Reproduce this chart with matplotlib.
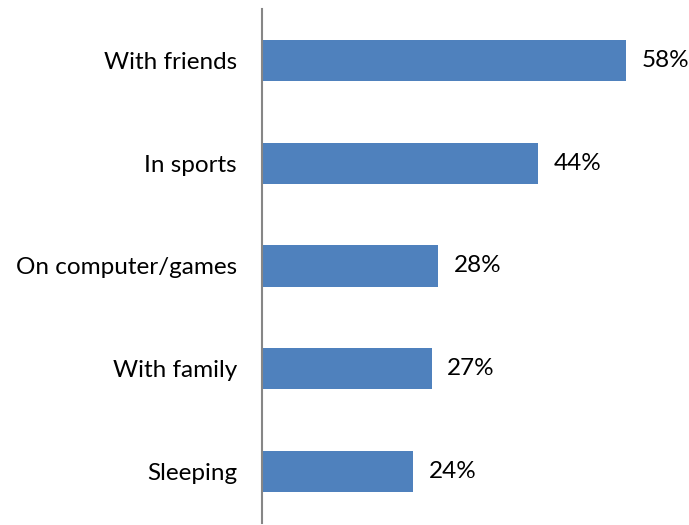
import matplotlib.pyplot as plt

# survey answers, top to bottom
activities = ['With friends', 'In sports', 'On computer/games', 'With family', 'Sleeping']
percent = [58, 44, 28, 27, 24]

plt.rcParams['font.family'] = ['Lato', 'DejaVu Sans']

fig = plt.figure(figsize=(6.89, 5.25), dpi=100)
ax = fig.add_axes([262 / 689, 2 / 525, 427 / 689, 514 / 525])

pos = list(range(len(activities)))
ax.barh(pos, percent, height=0.4, color='#4F81BD')
for p, v in zip(pos, percent):
    ax.text(v + 2.5, p, '{}%'.format(v), va='center', ha='left', fontsize=17.5, color='#000000')

ax.set_yticks(pos)
ax.set_yticklabels(activities, fontsize=17.5)
ax.tick_params(axis='y', length=0, pad=18)
ax.set_ylim(len(activities) - 0.5, -0.5)
ax.set_xlim(0, 68)
ax.set_xticks([])

for s in ['top', 'right', 'bottom']:
    ax.spines[s].set_visible(False)
ax.spines['left'].set_color('#868686')
ax.spines['left'].set_linewidth(1.5)

fig.savefig('out.png', dpi=100)
